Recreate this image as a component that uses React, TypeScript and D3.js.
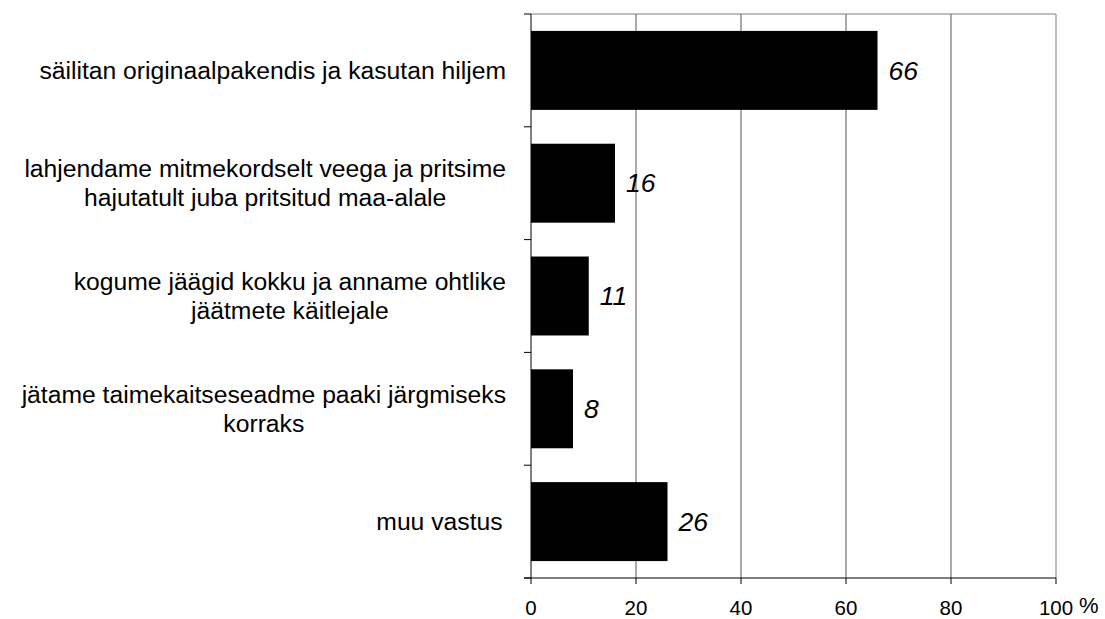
import React, { useMemo } from "react";
import * as d3 from "d3";

const categories = [
  ["säilitan originaalpakendis ja kasutan hiljem"],
  ["lahjendame mitmekordselt veega ja pritsime", "hajutatult juba pritsitud maa-alale"],
  ["kogume jäägid kokku ja anname ohtlike", "jäätmete käitlejale"],
  ["jätame taimekaitseseadme paaki järgmiseks", "korraks"],
  ["muu vastus "],
];
const values = [66, 16, 11, 8, 26];
const xTicks = [0, 20, 40, 60, 80, 100];

const W = 1105;
const H = 619;
const left = 531;
const right = 1056;
const top = 14;
const bottom = 578;
const font = "'Liberation Sans', Arial, sans-serif";
const labelSize = 24.7;
const lineGap = 29;

const App = () => {
  const x = d3.scaleLinear().domain([0, 100]).range([left, right]);
  const keys = categories.map((c, i) => String(i));
  const y = d3.scaleBand().domain(keys).range([top, bottom]).paddingInner(0.3).paddingOuter(0.15);
  const step = (bottom - top) / categories.length;

  // measure label lines so each block is centered and right-aligned
  const widths = useMemo(() => {
    const ctx = document.createElement("canvas").getContext("2d");
    ctx.font = `${labelSize}px 'Liberation Sans', Arial, sans-serif`;
    return categories.map((lines) => Math.max(...lines.map((l) => ctx.measureText(l).width)));
  }, []);

  return (
    <svg width={W} height={H} style={{ position: "absolute", left: 0, top: 0 }} fontFamily={font}>
      <rect width={W} height={H} fill="#fff" />
      {/* grid */}
      {xTicks.slice(1).map((t) => (
        <line key={t} x1={x(t)} x2={x(t)} y1={top} y2={bottom} stroke={t === 100 ? "#808080" : "#555"} strokeWidth={1} />
      ))}
      <line x1={left} x2={right} y1={top} y2={top} stroke="#808080" />
      {/* bars */}
      {values.map((v, i) => (
        <rect key={i} x={x(0)} y={y(String(i))} width={x(v) - x(0)} height={y.bandwidth()} fill="#000" />
      ))}
      {values.map((v, i) => (
        <text key={i} x={x(v) + 11} y={y(String(i)) + y.bandwidth() / 2} dy="0.35em" fontSize={26.5} fontStyle="italic">
          {v}
        </text>
      ))}
      {/* axes */}
      <line x1={left} x2={left} y1={top} y2={bottom} stroke="#000" />
      {d3.range(categories.length + 1).map((k) => (
        <line key={k} x1={left - 7} x2={left} y1={top + k * step} y2={top + k * step} stroke="#000" />
      ))}
      <line x1={left - 7} x2={right} y1={bottom} y2={bottom} stroke="#000" />
      {xTicks.map((t) => (
        <g key={t}>
          <line x1={x(t)} x2={x(t)} y1={bottom} y2={bottom + 6} stroke="#000" />
          <text x={x(t)} y={bottom + 37} textAnchor="middle" fontSize={20.5}>
            {t}
          </text>
        </g>
      ))}
      <text x={x(100) + 23} y={613} fontSize={22}>
        %
      </text>
      {/* category labels */}
      {categories.map((lines, i) => {
        const cx = 506 - widths[i] / 2;
        const cy = y(String(i)) + y.bandwidth() / 2;
        return (
          <text key={i} textAnchor="middle" fontSize={labelSize}>
            {lines.map((l, j) => (
              <tspan key={j} x={cx} y={cy + (j - (lines.length - 1) / 2) * lineGap} dy="0.35em">
                {l}
              </tspan>
            ))}
          </text>
        );
      })}
    </svg>
  );
};

export default App;
